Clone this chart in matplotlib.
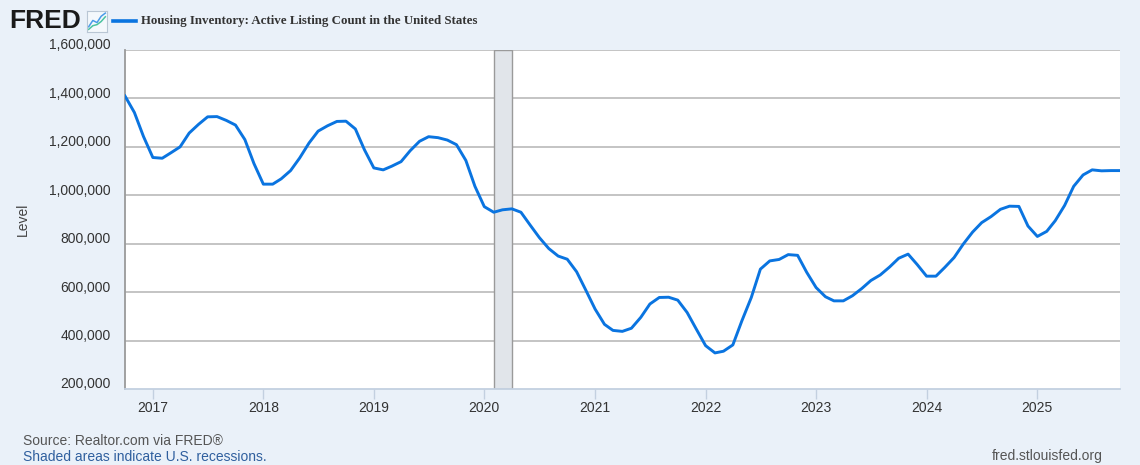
import matplotlib
matplotlib.use("Agg")
import matplotlib.pyplot as plt
import matplotlib.dates as mdates
import matplotlib.transforms as mtransforms
import numpy as np
import pandas as pd

# ---------------- data ----------------
start_month = "2016-10-01"
listing_count = [
    1410000, 1342000, 1243000,
    1156000, 1153000, 1175000, 1200000, 1257000, 1293000, 1324000, 1325000, 1309000, 1290000, 1230000, 1131000,
    1046000, 1046000, 1068000, 1102000, 1154000, 1216000, 1265000, 1287000, 1305000, 1306000, 1274000, 1188000,
    1113000, 1105000, 1120000, 1139000, 1184000, 1223000, 1242000, 1238000, 1228000, 1209000, 1144000, 1037000,
    953000, 930000, 940000, 944000, 930000, 876000, 825000, 780000, 749000, 736000, 684000, 609000,
    530000, 467000, 442000, 438000, 451000, 496000, 551000, 578000, 579000, 567000, 516000, 448000,
    379000, 349000, 356000, 382000, 482000, 578000, 695000, 729000, 735000, 755000, 752000, 682000,
    619000, 581000, 564000, 564000, 585000, 615000, 648000, 671000, 704000, 740000, 757000, 714000,
    666000, 666000, 702000, 743000, 798000, 848000, 887000, 912000, 942000, 955000, 954000, 873000,
    830000, 851000, 895000, 958000, 1037000, 1084000, 1105000, 1101000, 1102000, 1102000,
]
dates = pd.date_range(start_month, periods=len(listing_count), freq="MS")

recession_start = "2020-02-01"
recession_end = "2020-04-01"

y_ticks = [200000, 400000, 600000, 800000, 1000000, 1200000, 1400000, 1600000]
x_tick_years = [2017, 2018, 2019, 2020, 2021, 2022, 2023, 2024, 2025]

series_title = "Housing Inventory: Active Listing Count in the United States"
y_label = "Level"
source_text = "Source: Realtor.com via FRED\u00ae"
recession_note = "Shaded areas indicate U.S. recessions."
site_text = "fred.stlouisfed.org"

# ---------------- style ----------------
BG = "#eaf1f9"
LINE = "#0a74e0"
GRID = "#c4c4c4"
TXT = "#333333"
FS = 10.0

plt.rcParams["font.family"] = ["Liberation Sans", "DejaVu Sans"]

W, H = 1140, 465
fig = plt.figure(figsize=(W / 100, H / 100), dpi=100, facecolor=BG)

ax_l, ax_r, ax_t, ax_b = 125, 1120, 50, 389
ax = fig.add_axes([ax_l / W, 1 - ax_b / H, (ax_r - ax_l) / W, (ax_b - ax_t) / H])
ax.set_facecolor("white")

# recession shading
ax.axvspan(pd.Timestamp(recession_start), pd.Timestamp(recession_end),
           facecolor="#e1e5ea", edgecolor="#9a9a9a", linewidth=1.0, zorder=1)

# gridlines
for yv in y_ticks[1:]:
    ax.axhline(yv, color=GRID, linewidth=1.4, zorder=0.5)

ax.plot(dates, listing_count, color=LINE, linewidth=2.1, zorder=3,
        solid_joinstyle="round")

ax.set_xlim(pd.Timestamp(start_month), dates[-1])
ax.set_ylim(y_ticks[0], y_ticks[-1])

# spines
for s in ["top", "right"]:
    ax.spines[s].set_visible(False)
ax.spines["left"].set_color("#9a9a9a")
ax.spines["left"].set_linewidth(1.3)
ax.spines["bottom"].set_color("#c3d0e0")
ax.spines["bottom"].set_linewidth(1.3)

# y ticks
ax.set_yticks(y_ticks)
ax.set_yticklabels([f"{v:,}" for v in y_ticks])
ax.tick_params(axis="y", length=0, pad=10.5, labelsize=FS, labelcolor=TXT)
offset_up = mtransforms.ScaledTranslation(0, 6 / 100, fig.dpi_scale_trans)
for lab in ax.get_yticklabels():
    lab.set_transform(lab.get_transform() + offset_up)

# x ticks
ax.set_xticks([pd.Timestamp(f"{y}-01-01") for y in x_tick_years])
ax.set_xticklabels([str(y) for y in x_tick_years])
ax.tick_params(axis="x", length=7.5, width=1.0, color="#c3d0e0", pad=1.0,
               labelsize=FS, labelcolor=TXT)

ax.set_ylabel(y_label, fontsize=FS, color="#444444")
ax.yaxis.set_label_coords(-95 / (ax_r - ax_l), 0.5)

# ---------------- header ----------------
fig.text(9 / W, 1 - 21 / H, "FRED", fontsize=19, fontweight="heavy",
         color="#1a1a1a", va="center", ha="left", family=["Liberation Sans", "DejaVu Sans"])
# small logo icon
icon = fig.add_axes([87 / W, 1 - 32 / H, 20 / W, 21 / H])
icon.set_facecolor("#f4f8fc")
icon.set_xticks([]); icon.set_yticks([])
for s in icon.spines.values():
    s.set_color("#b9c6d4"); s.set_linewidth(0.8)
icon_x = [0, 1, 2, 3, 4]
icon.plot(icon_x, [1.0, 2.2, 1.8, 3.0, 3.6], color="#4a9be8", linewidth=1.1)
icon.plot(icon_x, [0.5, 1.2, 1.4, 2.0, 2.9], color="#4cc3a0", linewidth=1.1)
icon.set_xlim(-0.4, 4.4); icon.set_ylim(0, 4)

# legend line + title
fig.add_artist(plt.Line2D([113 / W, 136 / W], [1 - 21 / H, 1 - 21 / H],
                          color=LINE, linewidth=2.6, transform=fig.transFigure))
fig.text(141 / W, 1 - 21 / H, series_title, fontsize=9.3, fontweight="bold",
         color="#333333", va="center", ha="left",
         family=["Liberation Serif", "DejaVu Serif"])

# ---------------- footer ----------------
fig.text(23 / W, 1 - 441 / H, source_text, fontsize=FS, color="#555555",
         va="center", ha="left")
fig.text(23 / W, 1 - 457 / H, recession_note, fontsize=FS, color="#2f5f9e",
         va="center", ha="left")
fig.text(1103 / W, 1 - 456 / H, site_text, fontsize=FS, color="#555555",
         va="center", ha="right")

fig.savefig("out.png", dpi=100, facecolor=BG)
